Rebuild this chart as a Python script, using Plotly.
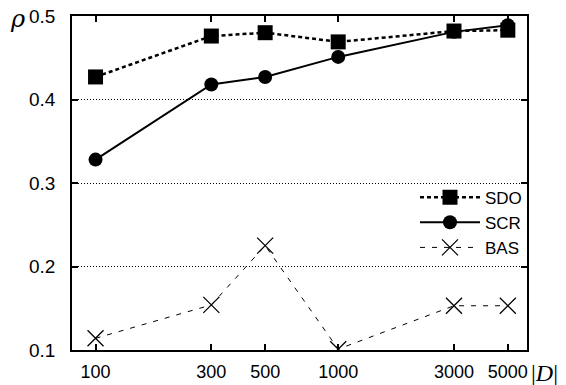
import plotly.graph_objects as go

sizes = [100, 300, 500, 1000, 3000, 5000]
sdo = [0.427, 0.476, 0.480, 0.469, 0.482, 0.483]
scr = [0.328, 0.418, 0.427, 0.451, 0.481, 0.489]
bas = [0.114, 0.154, 0.225, 0.101, 0.153, 0.153]
x_ticks = ["100", "300", "500", "1000", "3000", "5000"]
y_ticks = [0.1, 0.2, 0.3, 0.4, 0.5]

FONT = "Liberation Sans, Arial, Helvetica, sans-serif"

fig = go.Figure()
fig.add_trace(go.Scatter(x=sizes, y=sdo, name="SDO", mode="lines+markers",
                         line=dict(color="black", width=2.5, dash="4px,3px"),
                         marker=dict(symbol="square", size=15, color="black")))
fig.add_trace(go.Scatter(x=sizes, y=scr, name="SCR", mode="lines+markers",
                         line=dict(color="black", width=2),
                         marker=dict(symbol="circle", size=14, color="black")))
fig.add_trace(go.Scatter(x=sizes, y=bas, name="BAS", mode="lines+markers",
                         line=dict(color="black", width=1, dash="5px,7px"),
                         marker=dict(symbol="x-thin", size=16, color="black",
                                     line=dict(color="black", width=1.3))))

fig.update_layout(
    width=566, height=385,
    margin=dict(l=72, r=39, t=16, b=35, autoexpand=False),
    paper_bgcolor="white", plot_bgcolor="white",
    font=dict(family=FONT, size=19, color="black"),
    showlegend=True,
    legend=dict(x=1.0, xanchor="right", y=0.51, yanchor="top",
                bgcolor="rgba(0,0,0,0)", font=dict(size=17),
                tracegroupgap=0, itemwidth=60),
    xaxis=dict(type="log", range=[1.903, 3.778], automargin=False,
               tickvals=sizes, ticktext=x_ticks, tickfont=dict(size=18),
               ticks="inside", ticklen=6, tickwidth=1.5, tickcolor="black",
               showline=True, linecolor="black", linewidth=1.5, mirror="ticks",
               showgrid=False, zeroline=False, ticklabelstandoff=5,
               ticklabeloverflow="allow"),
    yaxis=dict(range=[0.1, 0.5], tickvals=y_ticks, tickformat=".1f", automargin=False,
               tickfont=dict(size=19),
               ticks="inside", ticklen=6, tickwidth=1.5, tickcolor="black",
               showline=True, linecolor="black", linewidth=1.5, mirror="ticks",
               showgrid=True, gridcolor="black", gridwidth=1, griddash="1px,2px",
               zeroline=False, ticklabelstandoff=11, ticklabeloverflow="allow"),
    annotations=[
        dict(text="<i>ρ</i>", xref="paper", yref="paper", x=-0.14, y=0.99,
             yanchor="middle", showarrow=False,
             font=dict(family="DejaVu Serif, serif", size=24)),
        dict(text="|<i>D</i>|", xref="paper", yref="paper", x=1.004, y=-0.069,
             xanchor="left", yanchor="middle", showarrow=False,
             font=dict(family="Liberation Serif, serif", size=24)),
    ],
)

fig.write_html("out.html", config={"displayModeBar": False},
               post_script="document.body.style.margin='0';")
